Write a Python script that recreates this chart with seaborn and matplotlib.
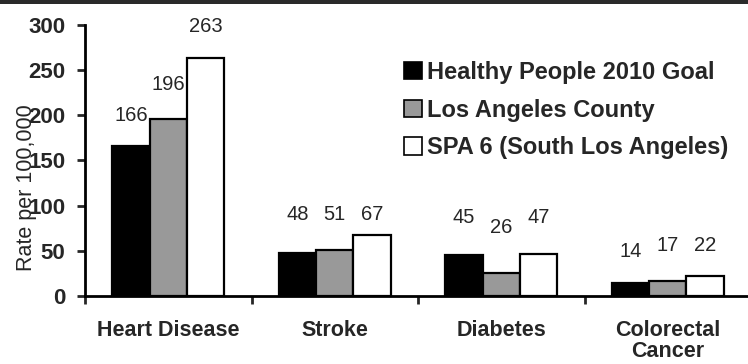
import matplotlib
matplotlib.use("Agg")
import matplotlib.pyplot as plt
import seaborn as sns
import pandas as pd
from matplotlib.patches import Patch, Rectangle

categories = ["Heart Disease", "Stroke", "Diabetes", "Colorectal\nCancer"]
series_names = ["Healthy People 2010 Goal", "Los Angeles County", "SPA 6 (South Los Angeles)"]
goal_2010 = [166, 48, 45, 14]
la_county = [196, 51, 26, 17]
spa6 = [263, 67, 47, 22]
y_ticks = [0, 50, 100, 150, 200, 250, 300]
y_label = "Rate per 100,000"

# label vertical offsets (data units) as positioned in the original
label_offsets = [[34, 42, 42, 35], [38, 39, 50, 39], [35, 23, 40, 34]]

rows = []
for name, vals in zip(series_names, [goal_2010, la_county, spa6]):
    for c, v in zip(categories, vals):
        rows.append({"category": c, "series": name, "value": v})
df = pd.DataFrame(rows)

sns.set_style("white")
plt.rcParams["font.family"] = ["Liberation Sans", "DejaVu Sans"]

fig = plt.figure(figsize=(7.48, 3.64), dpi=100)
ax = fig.add_axes([85/748, 68/364, 666/748, 271/364])

colors = ["#000000", "#999999", "#ffffff"]
sns.barplot(data=df, x="category", y="value", hue="series", order=categories,
            hue_order=series_names, palette=colors, width=0.67, gap=0,
            edgecolor="black", linewidth=1.6, saturation=1, ax=ax, legend=False)

ax.set_ylim(0, 300)
ax.set_xlim(-0.5, 3.5)
ax.set_yticks(y_ticks)
ax.set_yticklabels([str(t) for t in y_ticks], fontsize=16, fontweight="bold")

# Boundary ticks (major) and centered labels (minor)
ax.set_xticks([-0.5, 0.5, 1.5, 2.5, 3.5])
ax.set_xticklabels([])
ax.set_xticks(range(len(categories)), minor=True)
ax.set_xticklabels(categories, minor=True, fontsize=15.5, fontweight="bold")
for t in ax.get_xticklabels(minor=True):
    t.set_linespacing(1.0)
ax.tick_params(axis="x", which="minor", length=0, pad=17)
ax.tick_params(axis="x", which="major", direction="out", length=6, width=2, bottom=True)
ax.tick_params(axis="y", direction="out", length=6, width=2, left=True, pad=8)

for s in ["top", "right"]:
    ax.spines[s].set_visible(False)
for s in ["left", "bottom"]:
    ax.spines[s].set_linewidth(2)
    ax.spines[s].set_color("black")

ax.set_xlabel("")
ax.set_ylabel(y_label, fontsize=15.5)
ax.yaxis.set_label_coords(-0.072, 0.40)

# value labels
bar_w = 0.67 / 3
for si, vals in enumerate([goal_2010, la_county, spa6]):
    for ci, v in enumerate(vals):
        x = ci + (si - 1) * bar_w
        ax.text(x, v + label_offsets[si][ci], str(v), ha="center", va="center", fontsize=14.5)

handles = [Patch(facecolor=c, edgecolor="black", linewidth=1.2) for c in colors]
leg = fig.legend(handles, series_names, loc="upper left", bbox_to_anchor=(404/748, 1 - 61/364),
                 frameon=False, prop={"size": 17, "weight": "bold"},
                 handlelength=0.76, handleheight=0.76, handletextpad=0.2, labelspacing=0.62,
                 borderpad=0, borderaxespad=0)

fig.add_artist(Rectangle((0, 1 - 4/364), 1, 4/364, transform=fig.transFigure,
                         facecolor="#2a2a2a", edgecolor="none"))

fig.savefig("out.png", dpi=100)
